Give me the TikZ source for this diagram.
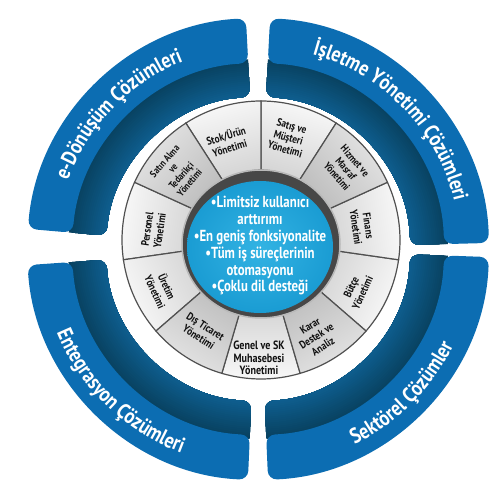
\documentclass[tikz,border=0pt]{standalone}
\usepackage{fontspec}
\setmainfont{PT Sans}
\newfontfamily\condc{PT Sans Bold}[FakeStretch=0.8]
\newfontfamily\condb{PT Sans Bold}[FakeStretch=0.84]
\usetikzlibrary{decorations.text}
\definecolor{bandfront}{HTML}{0C6DB2}
\definecolor{bandwallA}{HTML}{08415F}
\definecolor{bandwallB}{HTML}{0F6194}
\definecolor{cblue}{HTML}{1A9CD3}
\definecolor{cblueL}{HTML}{33B3E3}
\definecolor{sepline}{HTML}{505050}
\definecolor{labtext}{HTML}{111111}
\tikzset{
  lab/.style={align=center, inner sep=0pt, text=labtext},
  bandtext/.style={decorate, decoration={text along path, text align=center}}
}
\begin{document}
\begin{tikzpicture}[x=1pt,y=1pt]
\useasboundingbox (0,0) rectangle (500,500);
% ---------- outer bands ----------
\begin{scope}[shift={(258,251)}]
\foreach \a/\b in {93/175, 1.5/87, -87.5/-2, 184/267.5}{
  \begin{scope}
    \clip[rounded corners=9pt] (\a:231pt) arc[start angle=\a, end angle=\b, radius=231pt]
      -- (\b:152pt) arc[start angle=\b, end angle=\a, radius=152pt] -- cycle;
    \foreach \i in {0,...,19}{
      \pgfmathsetmacro\rr{190-2*\i}
      \pgfmathtruncatemacro\pp{\i*5}
      \fill[bandwallB!\pp!bandwallA] (0,0) circle[radius=\rr pt];
    }
  \end{scope}
  \fill[bandfront, rounded corners=9pt] (\a:231pt) arc[start angle=\a, end angle=\b, radius=231pt]
      -- (\b:186pt) arc[start angle=\b, end angle=\a, radius=186pt] -- cycle;
}
\path[bandtext, decoration={text={|\condb\fontsize{21.5}{21.5}\selectfont\color{white}|e-Dönüşüm Çözümleri}}]
  (176:202pt) arc[start angle=176, end angle=96, radius=202pt];
\path[bandtext, decoration={text={|\condb\fontsize{21.5}{21.5}\selectfont\color{white}|İşletme Yönetimi Çözümleri}}]
  (88:202pt) arc[start angle=88, end angle=0, radius=202pt];
\path[bandtext, decoration={text={|\condb\fontsize{21.5}{21.5}\selectfont\color{white}|Entegrasyon Çözümleri}}]
  (186:218pt) arc[start angle=186, end angle=266, radius=218pt];
\path[bandtext, decoration={text={|\condb\fontsize{21.5}{21.5}\selectfont\color{white}|Sektörel Çözümler}}]
  (-85:218pt) arc[start angle=-85, end angle=-5, radius=218pt];
\end{scope}
% ---------- grey segments ----------
\begin{scope}[shift={(261,260)}]
\foreach \k in {0,2,3,5,6,8,9}{
  \pgfmathsetmacro\m{-90+\k*360/11}
  \pgfmathsetmacro\aa{\m-180/11}
  \pgfmathsetmacro\bb{\m+180/11}
  \pgfmathsetmacro\sa{\m-90}
  \path[draw=sepline, line width=1.2pt, top color=gray!5, bottom color=gray!34, shading angle=\sa]
    (\aa:70pt) -- (\aa:139pt) arc[start angle=\aa, end angle=\bb, radius=139pt]
    -- (\bb:70pt) arc[start angle=\bb, end angle=\aa, radius=70pt] -- cycle;
}
\foreach \k in {1,4,7,10}{
  \pgfmathsetmacro\m{-90+\k*360/11}
  \pgfmathsetmacro\aa{\m-180/11}
  \pgfmathsetmacro\bb{\m+180/11}
  \pgfmathsetmacro\sa{\m-90}
  \path[draw=sepline, line width=1.2pt, top color=gray!20, bottom color=gray!52, shading angle=\sa]
    (\aa:70pt) -- (\aa:139pt) arc[start angle=\aa, end angle=\bb, radius=139pt]
    -- (\bb:70pt) arc[start angle=\bb, end angle=\aa, radius=70pt] -- cycle;
}
\node[lab, font=\condb\fontsize{12}{12.5}\selectfont, rotate=0] (genel) at (-91:118pt) {Genel ve SK\\Muhasebesi\\Yönetimi};
\node[lab, font=\condb\fontsize{11}{12}\selectfont, rotate=32.73] (karar) at (-60:111pt) {Karar\\Destek ve\\Analiz};
\node[lab, font=\condb\fontsize{11}{12.5}\selectfont, rotate=65.45] (butce) at (-27.5:108pt) {Bütçe\\Yönetimi};
\node[lab, font=\condb\fontsize{11}{12.5}\selectfont, rotate=-81.82] (finans) at (7.6:102pt) {Finans\\Yönetimi};
\node[lab, font=\condb\fontsize{10.5}{12}\selectfont, rotate=-49.09] (hizmet) at (40:111pt) {Hizmet ve\\Masraf\\Yönetimi};
\node[lab, font=\condb\fontsize{11}{12}\selectfont, rotate=-16.36] (satis) at (75:106pt) {Satış ve\\Müşteri\\Yönetimi};
\node[lab, font=\condb\fontsize{11}{13}\selectfont, rotate=16.36] (stok) at (108.7:104pt) {Stok/Ürün\\Yönetimi};
\node[lab, font=\condb\fontsize{10}{11}\selectfont, rotate=49.09] (satin) at (141:108pt) {Satın Alma\\ve\\Tedarikçi\\Yönetimi};
\node[lab, font=\condb\fontsize{11}{12.5}\selectfont, rotate=81.82] (personel) at (174.7:108pt) {Personel\\Yönetimi};
\node[lab, font=\condb\fontsize{11}{13}\selectfont, rotate=-65.45] (uretim) at (-153.7:111pt) {Üretim\\Yönetimi};
\node[lab, font=\condb\fontsize{11}{12.5}\selectfont, rotate=-32.73] (dis) at (-122.7:109pt) {Dış Ticaret\\Yönetimi};
\end{scope}
% ---------- centre ----------
\fill[fill=black!72, draw=gray!55, line width=1.5pt] (261,256) ellipse[x radius=79pt, y radius=74pt];
\shade[inner color=cblueL, outer color=cblue] (260,253) ellipse[x radius=73pt, y radius=66pt];
\node[font=\condc\fontsize{16}{16.8}\selectfont, text=white, align=center] (centre) at (260,254)
  {•Limitsiz kullanıcı\\arttırımı\\•En geniş fonksiyonalite\\•Tüm iş süreçlerinin\\otomasyonu\\•Çoklu dil desteği};
\end{tikzpicture}
\end{document}
